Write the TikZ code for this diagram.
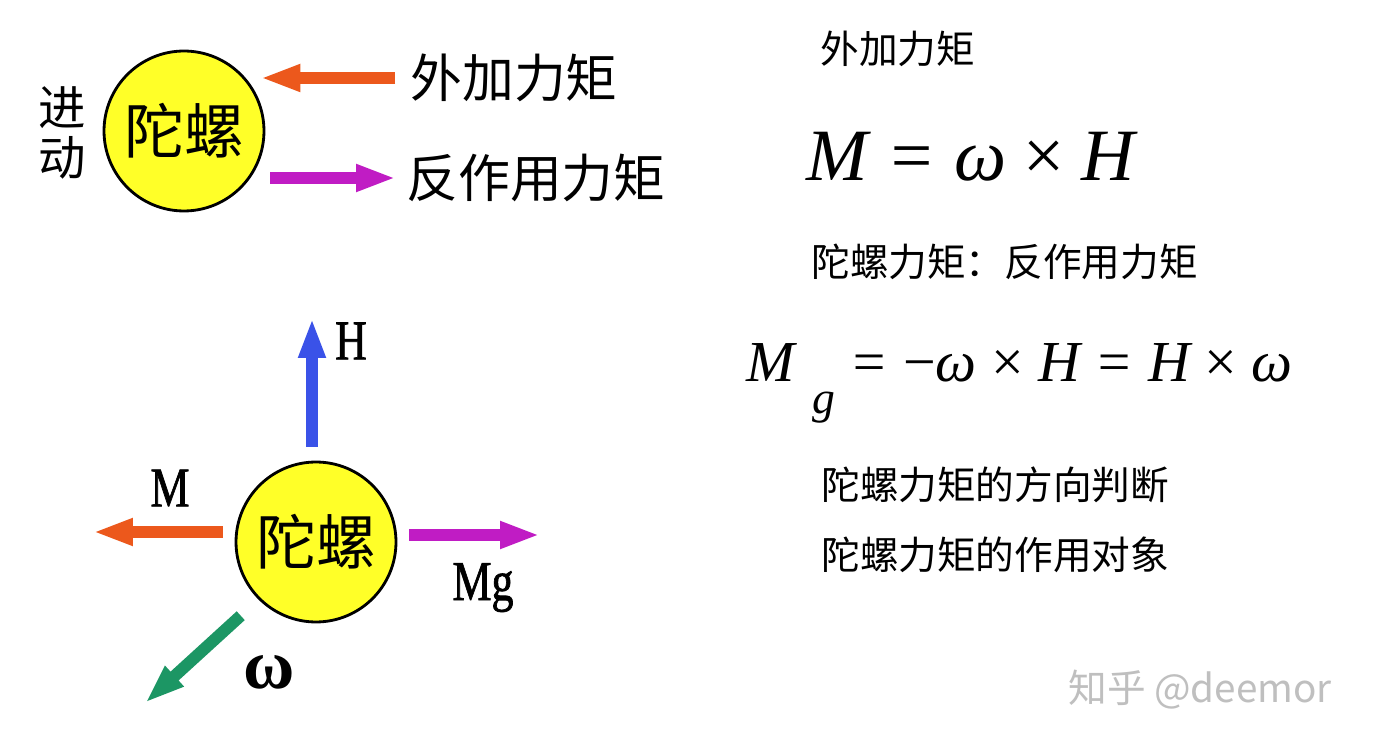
\documentclass[tikz,border=0pt]{standalone}
\usepackage{fontspec}
\setmainfont{Liberation Serif}
\newfontfamily\cjk{Noto Sans CJK SC}
\newfontfamily\narrowserif[FakeStretch=0.78,FakeBold=1.2]{Liberation Serif}
\usetikzlibrary{arrows.meta}
\usetikzlibrary{positioning}
\definecolor{gyroyellow}{RGB}{255,255,40}
\definecolor{torqueorange}{RGB}{236,88,28}
\definecolor{torquemagenta}{RGB}{192,28,196}
\definecolor{hblue}{RGB}{58,82,232}
\definecolor{omegagreen}{RGB}{28,150,100}

\begin{document}
\begin{tikzpicture}[x=0.02cm,y=-0.02cm,
  gyro/.style={circle,draw=black,line width=1.6pt,fill=gyroyellow,minimum size=3.2cm,inner sep=0pt,
    font=\cjk\fontsize{34}{34}\selectfont},
  fat/.style={line width=6.8pt,-{Triangle[length=0.8cm,width=0.5cm]}},
  biglabel/.style={inner sep=0pt,anchor=west,font=\cjk\fontsize{29.5}{30}\selectfont},
  note/.style={inner sep=0pt,anchor=west,font=\cjk\fontsize{22}{22}\selectfont},
  eq/.style={inner sep=0pt,anchor=west},
  veclabel/.style={inner sep=0pt,font=\narrowserif\fontsize{32}{32}\selectfont}]
\useasboundingbox[fill=white] (0,0) rectangle (1386,746);

% upper sketch
\node[gyro] (gyroA) at (184,131) {陀螺};
\node[inner sep=0pt,align=center,font=\cjk\fontsize{27}{28.5}\selectfont] (prec) at (62,133) {进\\动};
\node[biglabel] (ext) at (410,78) {外加力矩};
\node[biglabel] (react) at (406,178) {反作用力矩};
\draw[fat,torqueorange,shorten <=0.3cm,shorten >=-0.1cm] (ext.west) -- (ext.west -| gyroA.east);
\draw[fat,torquemagenta,shorten <=0.1cm,shorten >=0.2cm] (react.west -| gyroA.east) -- (react.west);

% lower sketch
\node[gyro] (gyroB) at (316,542) {陀螺};
\coordinate (hTip) at (312,318);
\coordinate (mTip) at (93,532);
\coordinate (mgTip) at (540,535);
\coordinate (wTip) at (145,703);
\draw[fat,hblue,shorten <=0.28cm] (hTip |- gyroB.north) -- (hTip);
\draw[fat,torqueorange,shorten <=0.24cm] (mTip -| gyroB.west) -- (mTip);
\draw[fat,torquemagenta,shorten <=0.24cm] (mgTip -| gyroB.east) -- (mgTip);
\draw[fat,omegagreen,shorten <=0.48cm] (gyroB.south west) -- (wTip);
\node[veclabel] (hLab) at (351,341) {H};
\node[veclabel] (mLab) at (170,488) {M};
\node[veclabel,anchor=base] (mgLab) at (483,600) {Mg};
\node[inner sep=0pt,font=\bfseries\fontsize{40}{40}\selectfont] (wLab) at (269,672) {ω};

% right column
\node[note] (extTitle) at (820,49) {外加力矩};
\node[eq,font=\fontsize{42}{42}\selectfont] (eqM) at (806,157) {\itshape M = ω\,×\,H};
\node[note] (gyroTitle) at (811,262) {陀螺力矩：反作用力矩};
\node[eq,font=\fontsize{33}{33}\selectfont] (eqMg) at (746,383)
  {\itshape M\hspace{0.3em}\raisebox{-0.55em}{\fontsize{26}{26}\selectfont g}\hspace{0.25em}= \upshape−\itshape ω \upshape×\itshape\ H = H \upshape×\itshape\ ω};
\node[note] (dirNote) at (821,485) {陀螺力矩的方向判断};
\node[note] (objNote) at (821,555) {陀螺力矩的作用对象};

% watermark
\node[note,text=black!25] (mark) at (1068,690) {知乎 @deemor};
\end{tikzpicture}
\end{document}
